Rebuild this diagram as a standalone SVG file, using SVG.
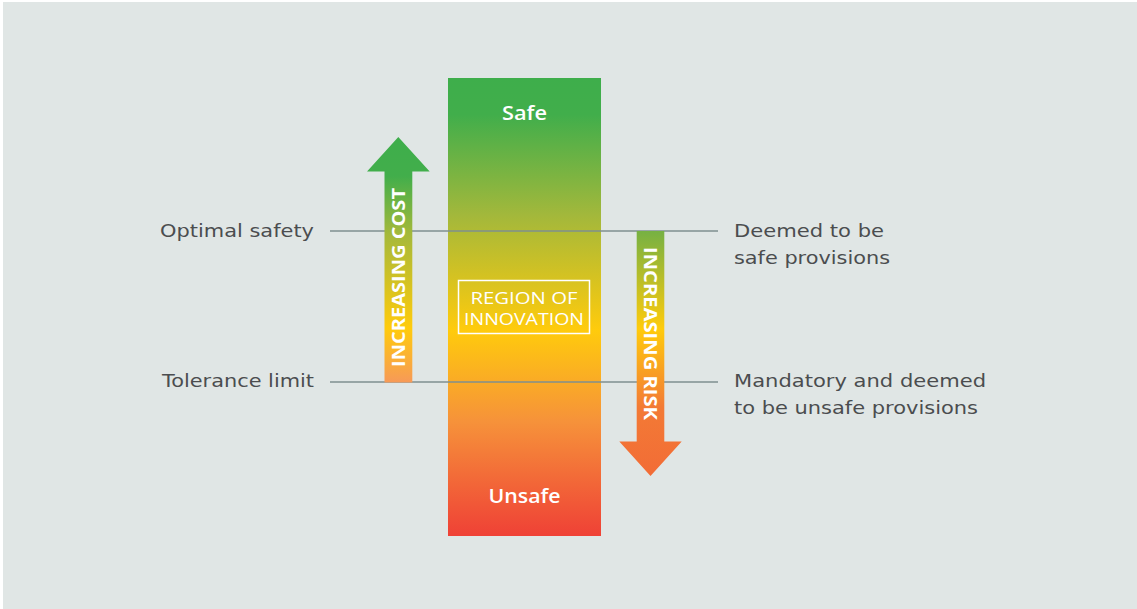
<svg xmlns="http://www.w3.org/2000/svg" width="1137" height="609" viewBox="0 0 1137 609">
<style>
.lbl{font-family:"DejaVu Sans","Open Sans","Liberation Sans",sans-serif;font-size:18.5px;fill:#4b4d4f}
.wt{font-family:"Open Sans","Noto Sans","Liberation Sans",sans-serif;fill:#ffffff}
.ln{stroke:#7f8f8f;stroke-width:1.4;fill:none}
</style>
<defs>
<linearGradient id="gMain" gradientUnits="userSpaceOnUse" x1="0" y1="78" x2="0" y2="536">
<stop offset="0" stop-color="#3eae4b"/>
<stop offset="0.08" stop-color="#41ae4b"/>
<stop offset="0.3" stop-color="#a3b83b"/>
<stop offset="0.55" stop-color="#ffcb0c"/>
<stop offset="0.75" stop-color="#f6923a"/>
<stop offset="1" stop-color="#ef4136"/>
</linearGradient>
<linearGradient id="gUp" gradientUnits="userSpaceOnUse" x1="0" y1="137" x2="0" y2="382">
<stop offset="0" stop-color="#3eae4b"/>
<stop offset="0.16" stop-color="#42ae4b"/>
<stop offset="0.4" stop-color="#a6b93a"/>
<stop offset="0.78" stop-color="#ffcb0c"/>
<stop offset="1" stop-color="#f79a57"/>
</linearGradient>
<linearGradient id="gDown" gradientUnits="userSpaceOnUse" x1="0" y1="231" x2="0" y2="476">
<stop offset="0" stop-color="#76b143"/>
<stop offset="0.4" stop-color="#ffcb0c"/>
<stop offset="0.72" stop-color="#f37a35"/>
<stop offset="1" stop-color="#f26c36"/>
</linearGradient>
</defs>
<rect x="0" y="0" width="1137" height="609" fill="#ffffff"/>
<rect x="3" y="2" width="1134" height="607" fill="#e0e6e5"/>

<g id="scale">
<rect x="448" y="78" width="153" height="458" fill="url(#gMain)"/>
<text class="wt" x="524.5" y="120" text-anchor="middle" font-size="20" font-weight="600" textLength="45" lengthAdjust="spacingAndGlyphs">Safe</text>
<text class="wt" x="524.5" y="503" text-anchor="middle" font-size="20" font-weight="600" textLength="72" lengthAdjust="spacingAndGlyphs">Unsafe</text>
</g>

<g id="connectors">
<line class="ln" x1="330" y1="231" x2="718" y2="231"/>
<line class="ln" x1="330" y1="382" x2="718" y2="382"/>
</g>

<g id="region">
<rect x="458.5" y="280.5" width="131" height="53" fill="none" stroke="#ffffff" stroke-width="1.5"/>
<text class="wt" x="524" y="303.5" text-anchor="middle" font-size="16.5" textLength="107" lengthAdjust="spacingAndGlyphs">REGION OF</text>
<text class="wt" x="524" y="325" text-anchor="middle" font-size="16.5" textLength="120" lengthAdjust="spacingAndGlyphs">INNOVATION</text>
</g>

<g id="arrow-cost">
<polygon points="384.5,382.5 384.5,171.5 367,171.5 398.3,137 429.7,171.5 412.3,171.5 412.3,382.5" fill="url(#gUp)"/>
<text class="wt" transform="translate(405.2,277.5) rotate(-90)" text-anchor="middle" font-size="18" font-weight="700" textLength="179" lengthAdjust="spacingAndGlyphs">INCREASING COST</text>
</g>

<g id="arrow-risk">
<polygon points="636.7,231 664.3,231 664.3,441.5 681.7,441.5 650.5,476 619.3,441.5 636.7,441.5" fill="url(#gDown)"/>
<text class="wt" transform="translate(643.5,333.5) rotate(90)" text-anchor="middle" font-size="18" font-weight="700" textLength="173" lengthAdjust="spacingAndGlyphs">INCREASING RISK</text>
</g>

<g id="label-optimal">
<text class="lbl" x="160" y="237" textLength="154" lengthAdjust="spacingAndGlyphs">Optimal safety</text>
</g>
<g id="label-tolerance">
<text class="lbl" x="162" y="387" textLength="152" lengthAdjust="spacingAndGlyphs">Tolerance limit</text>
</g>
<g id="label-deemed-safe">
<text class="lbl" x="734" y="237" textLength="150" lengthAdjust="spacingAndGlyphs">Deemed to be</text>
<text class="lbl" x="734" y="264" textLength="156" lengthAdjust="spacingAndGlyphs">safe provisions</text>
</g>
<g id="label-deemed-unsafe">
<text class="lbl" x="734" y="387" textLength="252" lengthAdjust="spacingAndGlyphs">Mandatory and deemed</text>
<text class="lbl" x="734" y="413.5" textLength="244" lengthAdjust="spacingAndGlyphs">to be unsafe provisions</text>
</g>
</svg>
